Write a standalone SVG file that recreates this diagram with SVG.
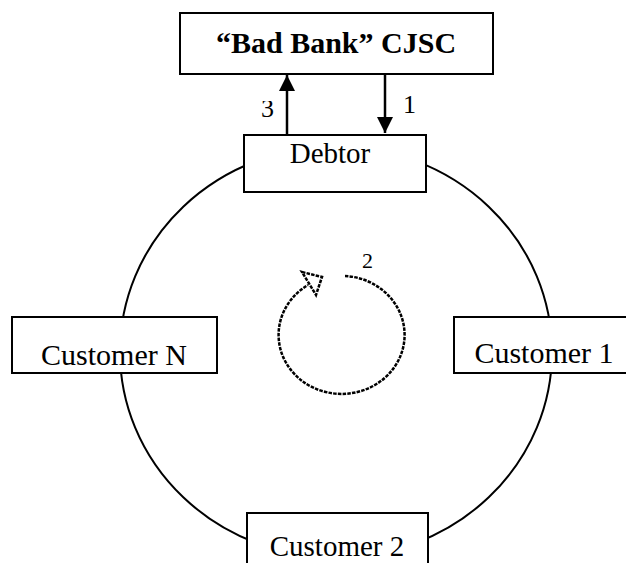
<svg xmlns="http://www.w3.org/2000/svg" width="626" height="563" viewBox="0 0 626 563">
<style>
.box{fill:#fff;stroke:#000;stroke-width:2}
.t{font-family:"Liberation Serif","Times New Roman",serif;fill:#000;text-anchor:middle}
.lbl{font-family:"Liberation Serif","Times New Roman",serif;fill:#000;font-size:26px}
.arr{stroke:#000;stroke-width:2.5;fill:none}
.dash{stroke:#000;stroke-width:2.5;fill:none;stroke-dasharray:3.5 1.2}
</style>
<defs>
<marker id="ah" viewBox="0 0 10 10" refX="10" refY="5" markerWidth="6.4" markerHeight="6.4" markerUnits="strokeWidth" orient="auto">
<path d="M0,0 L10,5 L0,10 Z" fill="#000"/>
</marker>
<clipPath id="c3"><rect x="250" y="101" width="36" height="30"/></clipPath>
</defs>
<rect width="626" height="563" fill="#fff"/>
<g id="ring">
<ellipse cx="336" cy="352" rx="216" ry="205.5" fill="none" stroke="#000" stroke-width="2"/>
</g>
<g id="connectors">
<line class="arr" x1="287" y1="135" x2="287" y2="75" marker-end="url(#ah)"/>
<line class="arr" x1="385" y1="74" x2="385" y2="133" marker-end="url(#ah)"/>
<text class="lbl" x="261" y="117" clip-path="url(#c3)">3</text>
<text class="lbl" x="403" y="113">1</text>
<path class="dash" d="M345,276 A63,59 0 1,1 308,285"/>
<polygon class="dash" points="302,272 322,277 316,295"/>
<text class="lbl" x="362" y="268" style="font-size:22px">2</text>
</g>
<g id="badbank">
<rect class="box" x="180" y="13" width="313" height="61"/>
<text class="t" x="336" y="53" style="font-size:30px;font-weight:bold">“Bad Bank” CJSC</text>
</g>
<g id="debtor">
<rect class="box" x="244" y="135" width="182" height="57"/>
<text class="t" x="330" y="163" style="font-size:29px">Debtor</text>
</g>
<g id="customerN">
<rect class="box" x="12" y="317" width="205" height="56"/>
<text class="t" x="114" y="365" style="font-size:30px">Customer N</text>
</g>
<g id="customer1">
<rect class="box" x="454" y="317" width="180" height="56"/>
<text class="t" x="544" y="363" style="font-size:30px">Customer 1</text>
</g>
<g id="customer2">
<rect class="box" x="247" y="513" width="181" height="60"/>
<text class="t" x="337" y="556" style="font-size:29px">Customer 2</text>
</g>
</svg>
